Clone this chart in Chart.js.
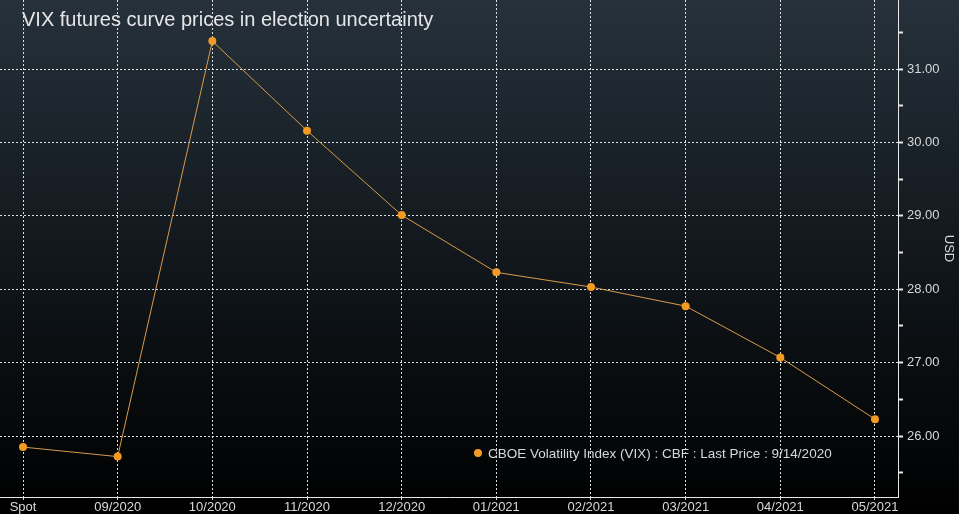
<!DOCTYPE html>
<html>
<head>
<meta charset="utf-8">
<script src="https://cdn.jsdelivr.net/npm/chart.js@4.4.1/dist/chart.umd.min.js"></script>
<style>
body { margin: 0; background: #000; }
#wrap { width: 959px; height: 514px; position: relative; }
</style>
</head>
<body>
<div id="wrap"><canvas id="vix-chart"></canvas></div>
<script>
var contracts = ["Spot", "09/2020", "10/2020", "11/2020", "12/2020", "01/2021", "02/2021", "03/2021", "04/2021", "05/2021"];
var lastPrice = [25.85, 25.72, 31.38, 30.16, 29.01, 28.23, 28.03, 27.77, 27.07, 26.23];
var priceTicks = [25.5, 26, 26.5, 27, 27.5, 28, 28.5, 29, 29.5, 30, 30.5, 31, 31.5];
var chartTitle = "VIX futures curve prices in election uncertainty";
var seriesLabel = "CBOE Volatility Index (VIX) : CBF : Last Price : 9/14/2020";

var FONT = "'Liberation Sans', Arial, sans-serif";
var TEXT = "#d6d8da";
var ORANGE = "#f29a23";

// gradient background behind everything
var backdrop = {
	id: "backdrop",
	beforeDraw: function(chart) {
		var ctx = chart.ctx;
		var g = ctx.createLinearGradient(0, 0, 0, chart.height);
		g.addColorStop(0, "#26313b");
		g.addColorStop(0.5, "#11171c");
		g.addColorStop(1, "#000000");
		ctx.save();
		ctx.fillStyle = g;
		ctx.fillRect(0, 0, chart.width, chart.height);
		ctx.restore();
	}
};

// title and legend sit inside the plot area
var overlay = {
	id: "overlay",
	afterDraw: function(chart) {
		var ctx = chart.ctx;
		var area = chart.chartArea;
		ctx.save();
		ctx.fillStyle = "#e4e6e8";
		ctx.font = "20px " + FONT;
		ctx.textBaseline = "middle";
		ctx.textAlign = "left";
		ctx.fillText(chartTitle, area.left + 22, 20);

		var lx = area.left + 478, ly = 453;
		ctx.fillStyle = ORANGE;
		ctx.beginPath();
		ctx.arc(lx, ly, 4, 0, Math.PI * 2);
		ctx.fill();
		ctx.fillStyle = TEXT;
		ctx.font = "13.5px " + FONT;
		ctx.fillText(seriesLabel, lx + 10, ly + 1);
		ctx.restore();
	}
};

var points = contracts.map(function(c, i) {
	return { x: i, y: lastPrice[i] };
});

var ctx = document.getElementById("vix-chart");
var vixChart = new Chart(ctx, {
	type: "line",
	data: {
		datasets: [{
			label: seriesLabel,
			data: points,
			borderColor: "#d99a4a",
			borderWidth: 1,
			tension: 0,
			pointRadius: 4,
			pointBorderWidth: 0,
			pointBackgroundColor: ORANGE,
			fill: false
		}]
	},
	options: {
		responsive: true,
		maintainAspectRatio: false,
		animation: false,
		layout: { padding: 0, autoPadding: false },
		plugins: {
			legend: { display: false },
			tooltip: { enabled: false }
		},
		scales: {
			x: {
				type: "linear",
				min: -0.243,
				max: 9.243,
				afterBuildTicks: function(scale) {
					scale.ticks = contracts.map(function(c, i) { return { value: i }; });
				},
				afterFit: function(scale) {
					scale.height = 17;
					scale.paddingLeft = 0;
					scale.paddingRight = 0;
				},
				ticks: {
					color: TEXT,
					font: { family: FONT, size: 13 },
					padding: 0,
					maxRotation: 0,
					autoSkip: false,
					callback: function(v) { return contracts[v]; }
				},
				grid: {
					color: "rgba(255,255,255,0.85)",
					lineWidth: 1,
					drawTicks: true,
					tickLength: 3
				},
				border: { display: true, color: "#e8e8e8", width: 1, dash: [2, 2] }
			},
			y: {
				position: "right",
				min: 25.17,
				max: 31.94,
				afterBuildTicks: function(scale) {
					scale.ticks = priceTicks.map(function(v) { return { value: v }; });
				},
				afterFit: function(scale) {
					scale.width = 61;
					scale.paddingTop = 0;
					scale.paddingBottom = 0;
				},
				ticks: {
					color: TEXT,
					font: { family: FONT, size: 13 },
					padding: 4,
					callback: function(v) { return v % 1 === 0 ? v.toFixed(2) : ""; }
				},
				grid: {
					color: function(c) {
						return c.tick && c.tick.value % 1 === 0 ? "rgba(255,255,255,0.85)" : "rgba(0,0,0,0)";
					},
					tickColor: "#e8e8e8",
					tickWidth: 2,
					tickLength: 5,
					drawTicks: true
				},
				border: { display: true, color: "#e8e8e8", width: 1, dash: [2, 2] },
				title: {
					display: true,
					text: "USD",
					color: TEXT,
					font: { family: FONT, size: 13 },
					padding: 3
				}
			}
		}
	},
	plugins: [backdrop, overlay]
});
</script>
</body>
</html>
